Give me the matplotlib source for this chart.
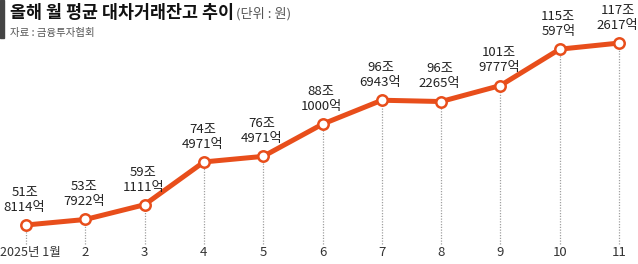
import matplotlib.pyplot as plt
from matplotlib.patches import Rectangle

plt.rcParams['font.family'] = ['Noto Sans CJK KR', 'DejaVu Sans']

months = [1, 2, 3, 4, 5, 6, 7, 8, 9, 10, 11]
month_labels = ['2025년 1월', '2', '3', '4', '5', '6', '7', '8', '9', '10', '11']
# 단위: 조원
balance = [51.8114, 53.7922, 59.1111, 74.4971, 76.4971, 88.1000,
           96.6943, 96.2265, 101.9777, 115.0597, 117.2617]
value_labels = ['51조\n8114억', '53조\n7922억', '59조\n1111억', '74조\n4971억',
                '76조\n4971억', '88조\n1000억', '96조\n6943억', '96조\n2265억',
                '101조\n9777억', '115조\n597억', '117조\n2617억']

line_color = '#e84e1b'

fig = plt.figure(figsize=(6.38, 2.64), dpi=100)
ax = fig.add_axes([0, 0, 1, 1])
ax.set_xlim(0.5616, 11.32)
ax.set_ylim(37.78, 132.75)
ax.axis('off')

# dotted guide lines from each point down to the month label
y0, y1 = ax.get_ylim()
base = y0 + 0.075 * (y1 - y0)
for m, v in zip(months, balance):
    ax.plot([m, m], [base, v], color='#a0a0a0', lw=0.9, ls=(0, (1, 1.2)), zorder=1)

ax.plot(months, balance, color=line_color, lw=3.6, zorder=2,
        marker='o', ms=7.5, mfc='white', mec=line_color, mew=1.8,
        solid_capstyle='round')

for m, v, lab in zip(months, balance, value_labels):
    ax.annotate(lab, (m, v), xytext=(-1, 8), textcoords='offset points',
                ha='center', va='bottom', fontsize=9.5, color='#222222',
                linespacing=1.2)

for i, (m, lab) in enumerate(zip(months, month_labels)):
    if i == 0:
        ax.text(0.0, 0.042, lab, transform=ax.transAxes,
                ha='left', va='center', fontsize=9, color='#333333')
    else:
        ax.text(m, 0.042, lab, transform=ax.get_xaxis_transform(),
                ha='center', va='center', fontsize=9.5, color='#333333')

# header
fig.patches.append(Rectangle((0, 1 - 38 / 264), 4 / 638, 38 / 264,
                             transform=fig.transFigure, color='#444444'))
fig.text(10 / 638, 1 - 13 / 264, '올해 월 평균 대차거래잔고 추이', fontsize=12.5,
         fontweight='bold', color='#111111', va='center', ha='left')
fig.text(236 / 638, 1 - 14 / 264, '(단위 : 원)', fontsize=9.5,
         color='#555555', va='center', ha='left')
fig.text(10 / 638, 1 - 33 / 264, '자료 : 금융투자협회', fontsize=7.5,
         color='#555555', va='center', ha='left')

fig.savefig('out.png', dpi=100)
